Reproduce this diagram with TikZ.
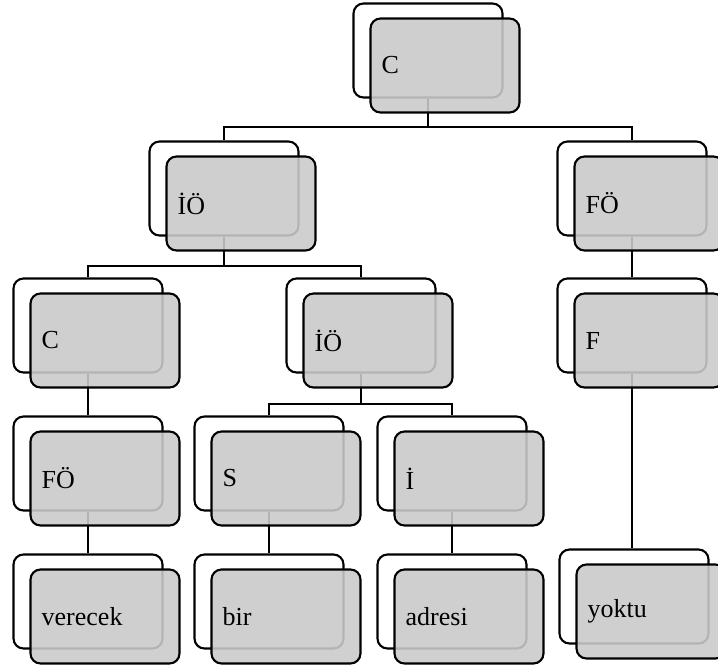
\documentclass[tikz,border=0pt]{standalone}
\usepackage{fontspec}
\setmainfont{Liberation Serif}
\usetikzlibrary{calc}

\begin{document}
\begin{tikzpicture}[x=0.75pt,y=-0.75pt,
  back/.style={draw,line width=1.6pt,rounded corners=7.5pt,fill=white,
    minimum width=111.75pt,minimum height=70.5pt,inner sep=0pt},
  front/.style={draw,line width=1.6pt,rounded corners=7.5pt,
    fill={rgb,255:red,202;green,202;blue,202},fill opacity=0.89,text opacity=1,
    minimum width=111.75pt,minimum height=70.5pt,inner xsep=8.25pt,
    text width=95pt,align=left,font=\fontsize{19.5}{23}\selectfont},
  link/.style={line width=1.6pt}]
\useasboundingbox (0,0) rectangle (718,668);
% back boxes
\foreach \n/\x/\y in {c0/428/50.5, io1/224/188.5, fo1/632/188.5,
    c2/88/325.5, io2/361/325.5, f2/632/325.5,
    fo3/88/463.5, s3/269/463.5, i3/452/463.5,
    verecek/88/601.5, bir/269/601.5, adresi/452/601.5, yoktu/634/596.5}
  \node[back] (\n) at (\x,\y) {};
% connectors
\draw[link] (c0.south) -- ++(0,28) -| (io1.north);
\draw[link] (c0.south) -- ++(0,28) -| (fo1.north);
\draw[link] (io1.south) -- ++(0,29) -| (c2.north);
\draw[link] (io1.south) -- ++(0,29) -| (io2.north);
\draw[link] (io2.south) -- ++(0,30) -| (s3.north);
\draw[link] (io2.south) -- ++(0,30) -| (i3.north);
\draw[link] (fo1.south) -- (f2.north);
\draw[link] (c2.south) -- (fo3.north);
\draw[link] (f2.south) -- (yoktu.north -| f2.south);
\draw[link] (fo3.south) -- (verecek.north);
\draw[link] (s3.south) -- (bir.north);
\draw[link] (i3.south) -- (adresi.north -| i3.south);
% front boxes
\foreach \n/\t in {c0/C, io1/İÖ, fo1/FÖ, c2/C, io2/İÖ, f2/F,
    fo3/FÖ, s3/S, i3/İ, verecek/verecek, bir/bir, adresi/adresi, yoktu/yoktu}
  \node[front] (\n-f) at ($(\n)+(17,15)$) {\t};
\end{tikzpicture}
\end{document}
